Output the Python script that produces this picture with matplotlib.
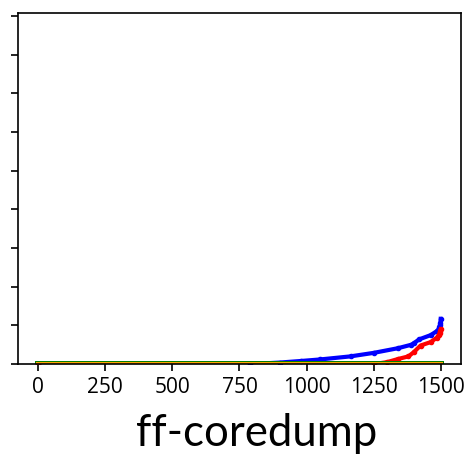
import matplotlib.pyplot as plt

# sorted per-sample values
blue_x = [0, 790, 900, 978, 1050, 1164, 1250, 1340, 1390, 1400, 1420, 1463, 1485, 1492, 1495, 1497, 1499, 1500]
blue_y = [0, 0, 0.04, 0.08, 0.12, 0.2, 0.29, 0.41, 0.5, 0.54, 0.64, 0.75, 0.85, 0.9, 0.95, 1.0, 1.07, 1.17]
red_x = [0, 1250, 1300, 1340, 1380, 1400, 1425, 1463, 1485, 1492, 1496, 1498, 1500]
red_y = [0, 0, 0.05, 0.13, 0.2, 0.31, 0.48, 0.57, 0.68, 0.75, 0.8, 0.85, 0.9]
flat_x = [0, 1500]
green_y = [0, 0]
orange_y = [0, 0]
xticks = [0, 250, 500, 750, 1000, 1250, 1500]
yticks = list(range(10))
title = "ff-coredump"

fig = plt.figure(figsize=(4.65, 4.54), dpi=100)
ax = fig.add_axes([0.039, 0.198, 0.952, 0.773])

ax.plot(blue_x, blue_y, color='blue', lw=3, marker='o', ms=3)
ax.plot(red_x, red_y, color='red', lw=3, marker='o', ms=3)
ax.plot(flat_x, green_y, color='green', lw=4.3)
ax.plot(flat_x, orange_y, color='orange', lw=2.9)

ax.set_xlim(-75, 1575)
ax.set_ylim(0, 9.07)
ax.set_xticks(xticks)
ax.set_yticks(yticks)
ax.set_yticklabels([])
ax.tick_params(axis='x', labelsize=15, length=5, width=1.2, pad=4)
ax.tick_params(axis='y', length=5, width=1.2)
for lab in ax.get_xticklabels():
    lab.set_family(['Open Sans', 'DejaVu Sans'])
for s in ax.spines.values():
    s.set_linewidth(1.2)

ax.set_xlabel(title, fontsize=31.5, family=['Lato', 'DejaVu Sans'], va='baseline')
ax.xaxis.set_label_coords(0.551, 0.018, transform=fig.transFigure)

fig.savefig('out.png', dpi=100)
